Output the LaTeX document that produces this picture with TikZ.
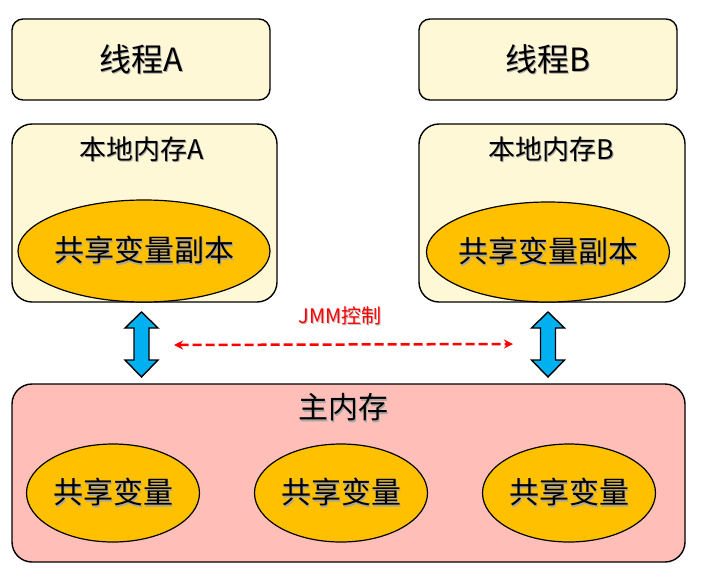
\documentclass[tikz,border=0pt]{standalone}
\usepackage{fontspec}
\setmainfont{Noto Sans CJK SC}
\usetikzlibrary{arrows.meta,shapes.geometric}
\definecolor{paleY}{HTML}{FFF8D7}
\definecolor{goldF}{HTML}{FFC000}
\definecolor{pinkF}{HTML}{FFBFB8}
\definecolor{blueA}{HTML}{00B0F0}
\newcommand\shtx[1]{\makebox[0pt][l]{\raisebox{-1.3pt}{\hspace{1.3pt}\color{black!35}#1}}#1}
\begin{document}
\begin{tikzpicture}[x=1pt,y=-1pt,
  thrbox/.style={draw=black,line width=1.4pt,fill=paleY,rounded corners=11pt},
  membox/.style={draw=black,line width=1.4pt,rounded corners=20pt},
  oval/.style={draw=black,line width=1.2pt,fill=goldF,ellipse},
  lbl/.style={inner sep=0pt,font=\fontsize{30}{32}\selectfont},
  lblth/.style={inner sep=0pt,font=\fontsize{32}{34}\selectfont},
  lblsm/.style={inner sep=0pt,font=\fontsize{27}{29}\selectfont},
  dbl/.style={draw=black,line width=1.4pt,fill=blueA,line join=miter}]
\useasboundingbox (0,0) rectangle (711,581);
\fill[white] (0,0) rectangle (711,581);
% thread boxes
\draw[thrbox] (12,19) rectangle (270,100);
\node[lblth] (tA) at (141,60) {\shtx{线程A}};
\draw[thrbox] (419,19) rectangle (677,100);
\node[lblth] (tB) at (548,60) {\shtx{线程B}};
% local memory boxes
\draw[membox,fill=paleY] (12,124) rectangle (277,302);
\node[lblsm] (lA) at (141.5,150) {\shtx{本地内存A}};
\node[oval,minimum width=252pt,minimum height=102pt,inner sep=0pt] (eA) at (144,251) {};
\node[lbl] (cA) at (eA.center) {\shtx{共享变量副本}};
\draw[membox,fill=paleY] (419,124) rectangle (685,302);
\node[lblsm] (lB) at (551,150) {\shtx{本地内存B}};
\node[oval,minimum width=243pt,minimum height=100pt,inner sep=0pt] (eB) at (548,252) {};
\node[lbl] (cB) at (eB.center) {\shtx{共享变量副本}};
% main memory
\draw[membox,fill=pinkF] (12,384) rectangle (685,562);
\node[lbl] (mm) at (343,408) {\shtx{主内存}};
\foreach \cx/\nm in {113/v1,341/v2,569/v3}{
  \node[oval,minimum width=173pt,minimum height=98pt,inner sep=0pt] (\nm) at (\cx,493) {};
  \node[lbl] at (\nm.center) {\shtx{共享变量}};
}
% double arrows
\foreach \cx in {141.5,548}{
  \draw[dbl] (\cx,312) -- (\cx+16.5,328) -- (\cx+7.5,328) -- (\cx+7.5,360)
    -- (\cx+16.5,360) -- (\cx,377) -- (\cx-16.5,360) -- (\cx-7.5,360)
    -- (\cx-7.5,328) -- (\cx-16.5,328) -- cycle;
}
% JMM control
\node[inner sep=0pt,text=red,font=\fontsize{20}{22}\selectfont] (jmm) at (340,316) {\makebox[0pt][l]{\raisebox{-1pt}{\hspace{1pt}\color{black!25}JMM控制}}JMM控制};
\coordinate (jl) at (174,345);
\coordinate (jr) at (513,344);
\draw[red,line width=2.5pt,dash pattern=on 9pt off 4pt,
  {Stealth[length=9pt,width=9pt]}-{Stealth[length=9pt,width=9pt]}] (jl) -- (jr);
\end{tikzpicture}
\end{document}
